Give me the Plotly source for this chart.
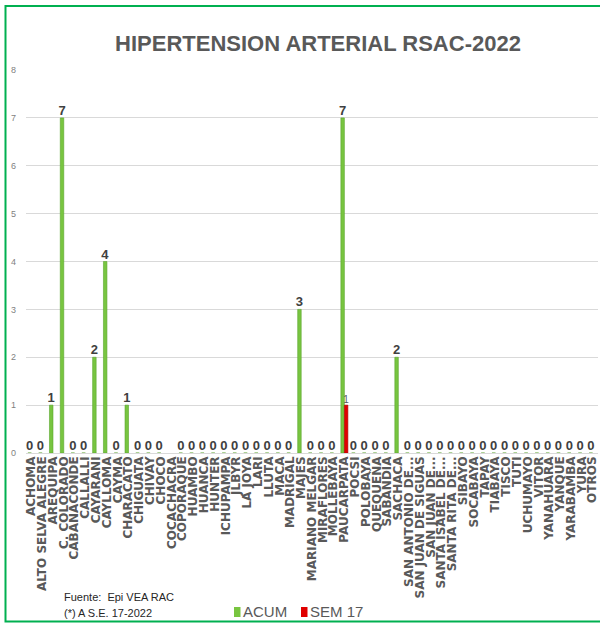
import plotly.graph_objects as go

# Distritos / municipios reportados
municipios = [
    "ACHOMA", "ALTO SELVA ALEGRE", "AREQUIPA", "C. COLORADO", "CABANACONDE",
    "CALLALLI", "CAYARANI", "CAYLLOMA", "CAYMA", "CHARACATO", "CHIGUATA",
    "CHIVAY", "CHOCO", "COCACHACRA", "COPORAQUE", "HUAMBO", "HUANCA",
    "HUNTER", "ICHUPAMPA", "JLBYR", "LA JOYA", "LARI", "LLUTA", "MACA",
    "MADRIGAL", "MAJES", "MARIANO MELGAR", "MIRAFLORES", "MOLLEBAYA",
    "PAUCARPATA", "POCSI", "POLOBAYA", "QUEQUEÑA", "SABANDIA", "SACHACA",
    "SAN ANTONIO DE...", "SAN JUAN DE SIGUAS", "SAN JUAN DE...",
    "SANTA ISABEL DE...", "SANTA RITA DE...", "SIBAYO", "SOCABAYA", "TAPAY",
    "TIABAYA", "TISCO", "TUTI", "UCHUMAYO", "VITOR", "YANAHUARA", "YANQUE",
    "YARABAMBA", "YURA", "OTROS",
]

# Casos acumulados
acum = [
    0, 0, 1, 7, 0, 0, 2, 4, 0, 1, 0, 0, 0, None, 0, 0, 0, 0, 0, 0, 0, 0, 0, 0,
    0, 3, 0, 0, 0, 7, 0, 0, 0, 0, 2, 0, 0, 0, 0, 0, 0, 0, 0, 0, 0, 0, 0, 0, 0,
    0, 0, 0, 0,
]

# Casos de la semana epidemiológica 17
sem17 = [None] * len(municipios)
sem17[municipios.index("PAUCARPATA")] = 1

y_ticks = [0, 1, 2, 3, 4, 5, 6, 7, 8]

W, H = 600, 627
L, R, T, B = 26, 2, 70, 174
PW, PH = W - L - R, H - T - B

SANS = "Liberation Sans, Arial"
GRAY = "#595959"


def px_x(px):
    return (px - L) / PW


def px_y(py):
    return (H - B - py) / PH


def label(vals):
    return ["" if v is None else str(v) for v in vals]


fig = go.Figure()
fig.add_trace(go.Bar(
    name="ACUM", x=municipios, y=acum,
    marker=dict(color="#78C540", line=dict(color="#5AA62E", width=0.6)),
    text=label(acum), textposition="outside", textangle=0,
    constraintext="none", cliponaxis=False,
    textfont=dict(family=SANS, size=13, color="#404040", weight="bold"),
))
fig.add_trace(go.Bar(
    name="SEM 17", x=municipios, y=sem17,
    marker=dict(color="#E00000", line=dict(color="#A80000", width=0.6)),
    text=label(sem17), textposition="outside", textangle=0,
    constraintext="none", cliponaxis=False,
    textfont=dict(family=SANS, size=10, color="#595959"),
))

fig.update_layout(
    width=W, height=H,
    margin=dict(l=L, r=R, t=T, b=B),
    paper_bgcolor="white", plot_bgcolor="white",
    barmode="group", bargap=0.35, bargroupgap=0,
    showlegend=False,
    title=dict(
        text="<b>HIPERTENSION ARTERIAL RSAC-2022</b>",
        x=318 / W, xanchor="center", y=1 - 43 / H, yanchor="middle",
        font=dict(family=SANS, size=22, color=GRAY),
    ),
    xaxis=dict(
        type="category", tickmode="array", tickvals=municipios,
        ticktext=municipios, tickangle=-90, automargin=False,
        tickfont=dict(family="DejaVu Sans", size=12, color=GRAY, weight="bold"),
        showgrid=False, showline=False, ticks="",
    ),
    yaxis=dict(
        range=[0, 8], tickvals=y_ticks, automargin=False,
        showgrid=True, gridcolor="#D9D9D9", gridwidth=1,
        zeroline=True, zerolinecolor="#D9D9D9", zerolinewidth=1,
        showline=False, ticks="", ticklabelstandoff=9,
        tickfont=dict(family=SANS, size=9, color="#7F7F7F"),
    ),
)

# Marco verde del gráfico
fig.add_shape(
    type="rect", xref="paper", yref="paper", layer="above",
    x0=px_x(5.5), x1=px_x(606), y0=px_y(621.5), y1=px_y(6),
    line=dict(color="#00B050", width=2), fillcolor="rgba(0,0,0,0)",
)

# Leyenda
legend_items = [("ACUM", "#78C540", 234, 241), ("SEM 17", "#E00000", 301, 308)]
for name, color, sx, tx in legend_items:
    fig.add_shape(
        type="rect", xref="paper", yref="paper",
        x0=px_x(sx), x1=px_x(sx + 6.5), y0=px_y(617), y1=px_y(607),
        line=dict(width=0), fillcolor=color,
    )
    fig.add_annotation(
        text=name, xref="paper", yref="paper", x=px_x(tx), y=px_y(611.5),
        xanchor="left", yanchor="middle", showarrow=False,
        font=dict(family=SANS, size=15, color=GRAY),
    )

# Fuente
for i, line in enumerate(["Fuente:  Epi VEA RAC", "(*) A S.E. 17-2022"]):
    fig.add_annotation(
        text=line, xref="paper", yref="paper", x=px_x(62), y=px_y(597 + 16 * i),
        xanchor="left", yanchor="middle", showarrow=False,
        font=dict(family=SANS, size=11, color="#262626"),
    )

fig.write_html("out.html")
